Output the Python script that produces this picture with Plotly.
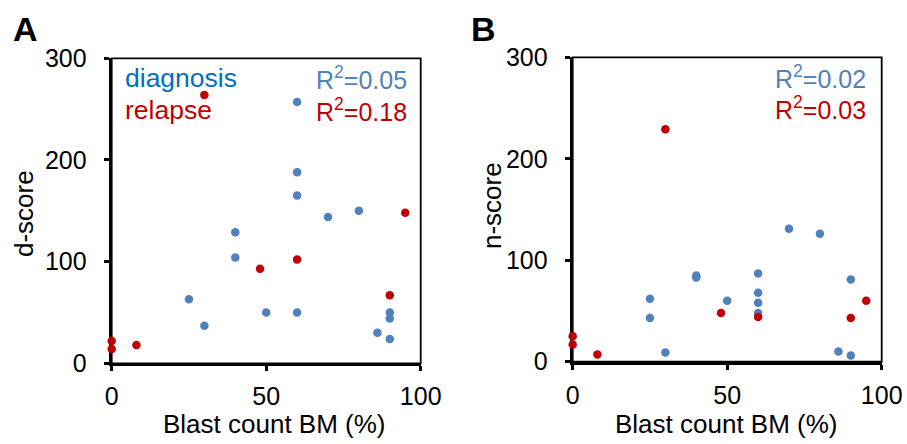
import plotly.graph_objects as go

# ---- data ----
blast_diag_A = [60, 60, 60, 70, 80, 40, 40, 25, 30, 50, 60, 90, 90, 86, 90]
dscore_diag = [257, 188, 165, 144, 150, 129, 104, 63, 37, 50, 50, 50, 44, 30, 24]
blast_rel_A = [30, 48, 60, 95, 90, 0, 0, 8]
dscore_rel = [264, 93, 102, 148, 67, 22, 14, 18]

blast_diag_B = [70, 80, 40, 40, 25, 25, 30, 50, 60, 60, 60, 60, 90, 90, 86]
nscore_diag = [131, 126, 85, 83, 62, 43, 9, 60, 87, 68, 58, 48, 81, 6, 10]
blast_rel_B = [30, 48, 60, 90, 95, 0, 0, 8]
nscore_rel = [229, 48, 44, 43, 60, 25, 17, 7]

x_ticks = [0, 50, 100]
y_ticks = [0, 100, 200, 300]
r2_A = ["0.05", "0.18"]
r2_B = ["0.02", "0.03"]

BLUE = "#4F81BD"
RED = "#C00000"
TXT_BLUE = "#0070C0"
FONT = "Liberation Sans, Arial, sans-serif"
W, H = 907, 444

fig = go.Figure()

def add_pts(x, y, color, xa, ya):
    fig.add_trace(go.Scatter(x=x, y=y, mode="markers", xaxis=xa, yaxis=ya,
                             marker=dict(color=color, size=8.5, line=dict(width=0)),
                             cliponaxis=False, showlegend=False, hoverinfo="x+y"))

add_pts(blast_diag_A, dscore_diag, BLUE, "x", "y")
add_pts(blast_rel_A, dscore_rel, RED, "x", "y")
add_pts(blast_diag_B, nscore_diag, BLUE, "x2", "y2")
add_pts(blast_rel_B, nscore_rel, RED, "x2", "y2")

# pixel geometry (window pixels)
axA = (111.7, 420.7)
axB = (572.7, 881.7)
yA = (58.3, 363.3)
yB = (57.3, 361.7)

def xd(p):
    return (p[0] / W, p[1] / W)

def yd(p):
    return (1 - p[1] / H, 1 - p[0] / H)

common_x = dict(range=[0, 100], tickvals=x_ticks, showgrid=False, zeroline=False,
                showline=True, linecolor="black", linewidth=3, ticks="outside",
                ticklen=5, tickwidth=3, tickcolor="black", layer="below traces",
                automargin=False,
                tickfont=dict(family=FONT, size=25, color="black"), ticklabelstandoff=4)
common_y = dict(range=[0, 300], tickvals=y_ticks, showgrid=False, zeroline=False,
                showline=True, linecolor="black", linewidth=3, ticks="outside",
                ticklen=5, tickwidth=3, tickcolor="black", layer="below traces",
                automargin=False,
                tickfont=dict(family=FONT, size=25, color="black"), ticklabelstandoff=12)

fig.update_layout(
    width=W, height=H, margin=dict(l=0, r=0, t=0, b=0, autoexpand=False),
    paper_bgcolor="white", plot_bgcolor="white",
    xaxis=dict(domain=xd(axA), anchor="y", **common_x),
    yaxis=dict(domain=yd(yA), anchor="x", **common_y),
    xaxis2=dict(domain=xd(axB), anchor="y2", **common_x),
    yaxis2=dict(domain=yd(yB), anchor="x2", **common_y),
    font=dict(family=FONT),
)

# thin frame (top/right)
for xr, yr in (("x domain", "y domain"), ("x2 domain", "y2 domain")):
    fig.add_shape(type="rect", xref=xr, yref=yr, x0=0, x1=1, y0=0, y1=1,
                  line=dict(color="black", width=1.8), layer="below")

def ann(text, x, y, size=26, color="black", xanchor="center", yanchor="middle",
        textangle=0, bold=False):
    fig.add_annotation(text=f"<b>{text}</b>" if bold else text,
                       x=x / W, y=1 - y / H,
                       xref="paper", yref="paper", showarrow=False,
                       xanchor=xanchor, yanchor=yanchor, textangle=textangle,
                       font=dict(family=FONT, size=size, color=color))

# panel letters
ann("A", 11, 29, size=34, xanchor="left", bold=True)
ann("B", 469, 29, size=34, xanchor="left", bold=True)

# axis titles
ann("d-score", 24, 214, textangle=-90)
ann("n-score", 492, 206, textangle=-90)
ann("Blast count BM (%)", 274, 424)
ann("Blast count BM (%)", 726, 424)

# legend-like labels
ann("diagnosis", 123, 78, size=26.5, color=TXT_BLUE, xanchor="left")
ann("relapse", 123, 110, size=26.5, color=RED, xanchor="left")

# R^2 labels
ann(f"R<sup>2</sup>={r2_A[0]}", 409, 78, size=25, color=BLUE, xanchor="right")
ann(f"R<sup>2</sup>={r2_A[1]}", 409, 110, size=25, color=RED, xanchor="right")
ann(f"R<sup>2</sup>={r2_B[0]}", 868, 77, size=25, color=BLUE, xanchor="right")
ann(f"R<sup>2</sup>={r2_B[1]}", 868, 108, size=25, color=RED, xanchor="right")

fig.write_html(
    "out.html",
    config={"displayModeBar": False},
    post_script="document.body.style.margin='0';document.body.style.overflow='hidden';",
)
